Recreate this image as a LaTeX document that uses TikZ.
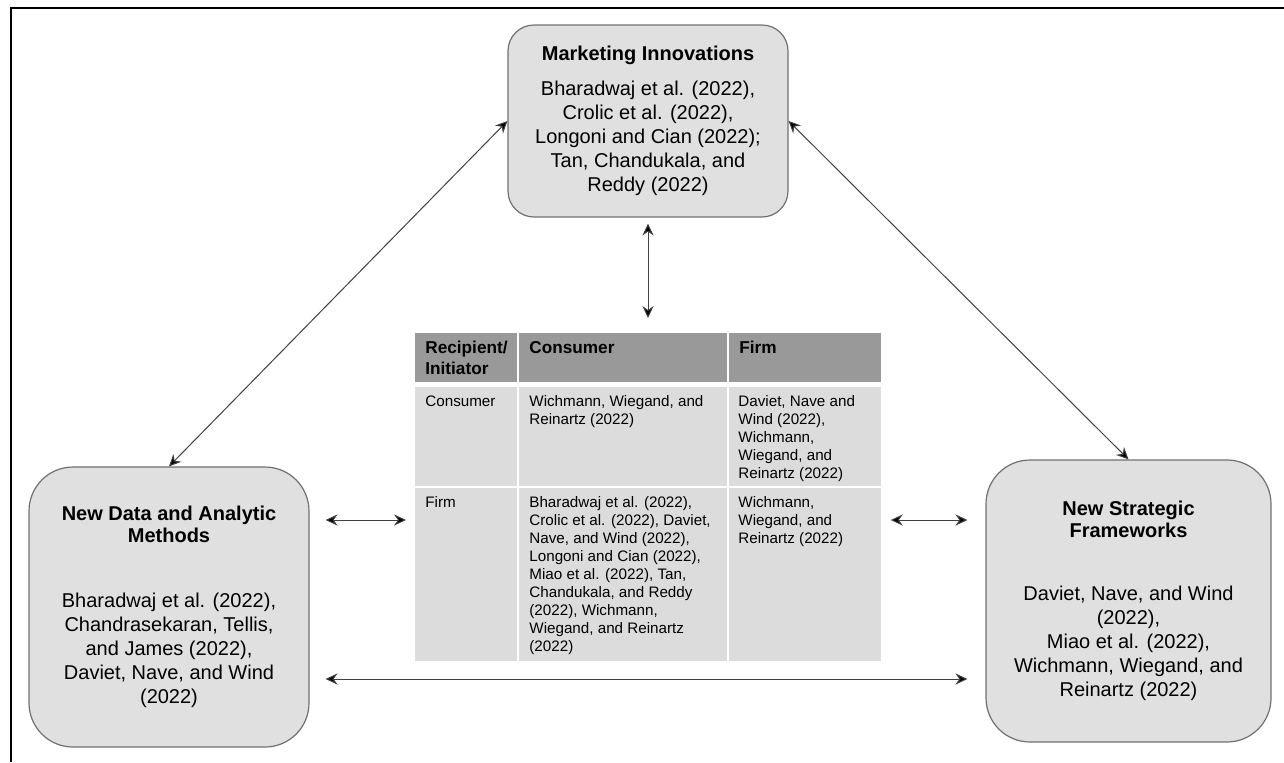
\documentclass[tikz,border=0pt]{standalone}
\usepackage{fontspec}
\setmainfont{Liberation Sans}
\usetikzlibrary{arrows.meta}
\definecolor{boxfill}{HTML}{E0E0E0}
\definecolor{boxline}{HTML}{707070}
\definecolor{hdgray}{HTML}{999999}
\definecolor{cellgray}{HTML}{DCDCDC}
\tikzset{
  theme/.style={draw=boxline, fill=boxfill, line width=0.6pt, align=center,
    inner sep=0pt, font=\fontsize{10pt}{12pt}\selectfont},
  link/.style={draw=black!75, line width=0.5pt,
    {Stealth[length=6pt,width=5.6pt,inset=2pt,fill=black]}-{Stealth[length=6pt,width=5.6pt,inset=2pt,fill=black]}},
  hdcell/.style={fill=hdgray, anchor=north west, inner sep=0pt, minimum height=24.5pt},
  cell/.style={fill=cellgray, anchor=north west, inner sep=0pt},
  hdtext/.style={anchor=north west, inner sep=0pt, align=left,
    font=\bfseries\fontsize{8.6pt}{10.5pt}\selectfont},
  celltext/.style={anchor=north west, inner sep=0pt, align=left,
    font=\fontsize{7.6pt}{9pt}\selectfont}
}
\begin{document}
\begin{tikzpicture}[x=0.5pt, y=-0.5pt]
\useasboundingbox (0,0) rectangle (1284,762);
\draw [line width=1pt] (1284,7.5) -- (11,7.5) -- (11,762);

% the three boxes
\node [theme, rounded corners=13pt, minimum width=140pt, minimum height=96pt] (mkt) at (648,121)
  {\textbf{Marketing Innovations}\\[5.5pt]
   Bharadwaj et al. (2022),\\Crolic et al. (2022),\\Longoni and Cian (2022);\\
   Tan, Chandukala, and\\Reddy (2022)};
\node [theme, rounded corners=22pt, minimum width=140pt, minimum height=140pt] (data) at (169,607)
  {\textbf{New Data and Analytic}\\[-1pt]\textbf{Methods}\\[20.5pt]
   Bharadwaj et al. (2022),\\Chandrasekaran, Tellis,\\and James (2022),\\
   Daviet, Nave, and Wind\\(2022)};
\node [theme, rounded corners=22pt, minimum width=142.5pt, minimum height=141pt] (strat) at (1128.5,601)
  {\textbf{New Strategic}\\[-1pt]\textbf{Frameworks}\\[19.5pt]
   Daviet, Nave, and Wind\\(2022),\\Miao et al. (2022),\\
   Wichmann, Wiegand, and\\Reinartz (2022)};

% table
\node [hdcell, minimum width=51pt] (hd1) at (415,333) {};
\node [hdcell, minimum width=104pt] (hd2) at (519,333) {};
\node [hdcell, minimum width=76pt] (hd3) at (729,333) {};
\node [cell, minimum width=51pt, minimum height=49.5pt] (r1c1) at (415,387) {};
\node [cell, minimum width=104pt, minimum height=49.5pt] (r1c2) at (519,387) {};
\node [cell, minimum width=76pt, minimum height=49.5pt] (r1c3) at (729,387) {};
\node [cell, minimum width=51pt, minimum height=86.5pt] (r2c1) at (415,488) {};
\node [cell, minimum width=104pt, minimum height=86.5pt] (r2c2) at (519,488) {};
\node [cell, minimum width=76pt, minimum height=86.5pt] (r2c3) at (729,488) {};

\node [hdtext] (hd1t) at ([shift={(5pt,-4pt)}]hd1.north west) {Recipient/\\Initiator};
\node [hdtext] (hd2t) at ([shift={(5pt,-4pt)}]hd2.north west) {Consumer};
\node [hdtext] (hd3t) at ([shift={(5pt,-4pt)}]hd3.north west) {Firm};
\node [celltext] (r1c1t) at ([shift={(5pt,-4pt)}]r1c1.north west) {Consumer};
\node [celltext] (r1c2t) at ([shift={(5pt,-4pt)}]r1c2.north west) {Wichmann, Wiegand, and\\Reinartz (2022)};
\node [celltext] (r1c3t) at ([shift={(4.5pt,-4pt)}]r1c3.north west)
  {Daviet, Nave and\\Wind (2022),\\Wichmann,\\Wiegand, and\\Reinartz (2022)};
\node [celltext] (r2c1t) at ([shift={(5pt,-4pt)}]r2c1.north west) {Firm};
\node [celltext] (r2c2t) at ([shift={(5pt,-4pt)}]r2c2.north west)
  {Bharadwaj et al. (2022),\\Crolic et al. (2022), Daviet,\\Nave, and Wind (2022),\\
   Longoni and Cian (2022),\\Miao et al. (2022), Tan,\\Chandukala, and Reddy\\
   (2022), Wichmann,\\Wiegand, and Reinartz\\(2022)};
\node [celltext] (r2c3t) at ([shift={(4.5pt,-4pt)}]r2c3.north west)
  {Wichmann,\\Wiegand, and\\Reinartz (2022)};

% connectors
\coordinate (midrow) at (0,520);
\coordinate (lowrow) at (0,679);
\draw [link] (mkt.west) -- (data.north);
\draw [link] (mkt.east) -- (strat.north);
\draw [link, shorten <=3pt, shorten >=7.5pt] (mkt.south) -- (mkt.south |- hd2.north);
\draw [link, shorten <=8pt, shorten >=4.5pt] (data.east |- midrow) -- (r2c1.west |- midrow);
\draw [link, shorten <=4.5pt, shorten >=9pt] (r2c3.east |- midrow) -- (strat.west |- midrow);
\draw [link, shorten <=8pt, shorten >=9pt] (data.east |- lowrow) -- (strat.west |- lowrow);
\end{tikzpicture}
\end{document}
